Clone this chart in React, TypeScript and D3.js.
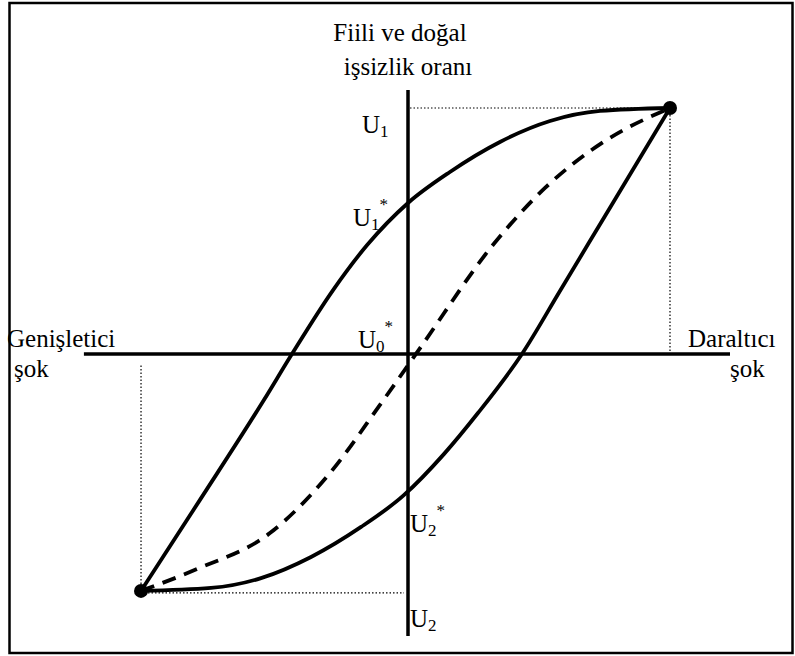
import React from "react";
import * as d3 from "d3";

// Data in chart units: x = shock (negative = expansionary, positive = contractionary),
// y = unemployment deviation from U0*
const upperX = [-10.19, -7.94, -5.5, -4.43, -2.86, -1.56, 0, 1.6, 3.51, 5.42, 7.33, 10.0];
const upperY = [-9.63, -5.93, -1.87, 0, 2.6, 4.43, 6.14, 7.4, 8.62, 9.47, 9.88, 10];

const lowerX = [-10.19, -7.52, -5.61, -3.7, -1.79, -0.19, 1.37, 2.67, 4.35, 5.8, 7.75, 10.0];
const lowerY = [-9.63, -9.51, -9.11, -8.25, -7.03, -5.77, -4.07, -2.4, 0, 2.56, 6.02, 10];

const dashX = [-10.19, -8.05, -5.27, -2.98, -1.07, 0.46, 3.24, 5.23, 7.52, 10.0];
const dashY = [-9.63, -8.74, -7.28, -4.84, -2.07, 0.24, 4.43, 6.75, 8.66, 10];

const endPointsX = [10.0, -10.19];
const endPointsY = [10, -9.63];

const U1 = 10;
const U2 = -9.63;

const hAxisRange = [-12.37, 12.29];
const vAxisRange = [-11.46, 10.73];

export default function App() {
  const W = 795;
  const H = 656;
  const x = d3.scaleLinear().domain([-10, 10]).range([408 - 262, 408 + 262]);
  const y = d3.scaleLinear().domain([-10, 10]).range([354 + 246, 354 - 246]);

  const line = d3
    .line<[number, number]>()
    .x((d) => x(d[0]))
    .y((d) => y(d[1]))
    .curve(d3.curveMonotoneX);

  const upper = line(upperX.map((v, i) => [v, upperY[i]]) as [number, number][]) || "";
  const lower = line(lowerX.map((v, i) => [v, lowerY[i]]) as [number, number][]) || "";
  const dashed = line(dashX.map((v, i) => [v, dashY[i]]) as [number, number][]) || "";

  const font = "'Liberation Serif', 'Times New Roman', serif";
  const fs = 25;
  const sub = 17;

  const ULabel = ({ px, py, s, star }: { px: number; py: number; s: string; star?: boolean }) => (
    <text x={px} y={py} fontFamily={font} fontSize={fs}>
      U
      <tspan fontSize={sub} dy={4}>{s}</tspan>
      {star ? <tspan fontSize={sub} dy={-20}>*</tspan> : null}
    </text>
  );

  return (
    <svg
      width={W}
      height={H}
      style={{ position: "absolute", left: 0, top: 0, background: "#fff" }}
    >
      <rect x={0} y={0} width={W} height={H} fill="#fff" />
      <rect x={9.5} y={3} width={783} height={650} fill="none" stroke="#000" strokeWidth={2.5} />

      {/* dotted guide lines */}
      <g stroke="#000" strokeWidth={1.2} strokeDasharray="1.5,2" fill="none">
        <line x1={x(0) + 2} x2={x(endPointsX[0])} y1={y(U1)} y2={y(U1)} />
        <line x1={x(endPointsX[0])} x2={x(endPointsX[0])} y1={y(U1)} y2={y(0)} />
        <line x1={x(endPointsX[1])} x2={x(0) - 4} y1={y(U2) + 2} y2={y(U2) + 2} />
        <line x1={x(endPointsX[1])} x2={x(endPointsX[1])} y1={y(U2)} y2={y(0) + 11} />
      </g>

      {/* axes */}
      <line x1={x(hAxisRange[0])} x2={x(hAxisRange[1])} y1={y(0)} y2={y(0)} stroke="#000" strokeWidth={3.5} />
      <line x1={x(0)} x2={x(0)} y1={y(vAxisRange[1])} y2={y(vAxisRange[0])} stroke="#000" strokeWidth={3.5} />

      {/* curves */}
      <path d={upper} fill="none" stroke="#000" strokeWidth={3.8} />
      <path d={lower} fill="none" stroke="#000" strokeWidth={3.8} />
      <path d={dashed} fill="none" stroke="#000" strokeWidth={3.8} strokeDasharray="14,9" />

      {endPointsX.map((v, i) => (
        <circle key={i} cx={x(v)} cy={y(endPointsY[i])} r={7} fill="#000" />
      ))}

      {/* titles */}
      <text x={400} y={41} textAnchor="middle" fontFamily={font} fontSize={fs}>Fiili ve doğal</text>
      <text x={408} y={75} textAnchor="middle" fontFamily={font} fontSize={fs}>işsizlik oranı</text>

      <text x={7} y={347} fontFamily={font} fontSize={fs}>Genişletici</text>
      <text x={14} y={377} fontFamily={font} fontSize={fs}>şok</text>
      <text x={688} y={347} fontFamily={font} fontSize={fs}>Daraltıcı</text>
      <text x={730} y={377} fontFamily={font} fontSize={fs}>şok</text>

      <ULabel px={362} py={133} s="1" />
      <ULabel px={353} py={226} s="1" star />
      <ULabel px={358} py={348} s="0" star />
      <ULabel px={410} py={532} s="2" star />
      <ULabel px={410} py={627} s="2" />
    </svg>
  );
}
